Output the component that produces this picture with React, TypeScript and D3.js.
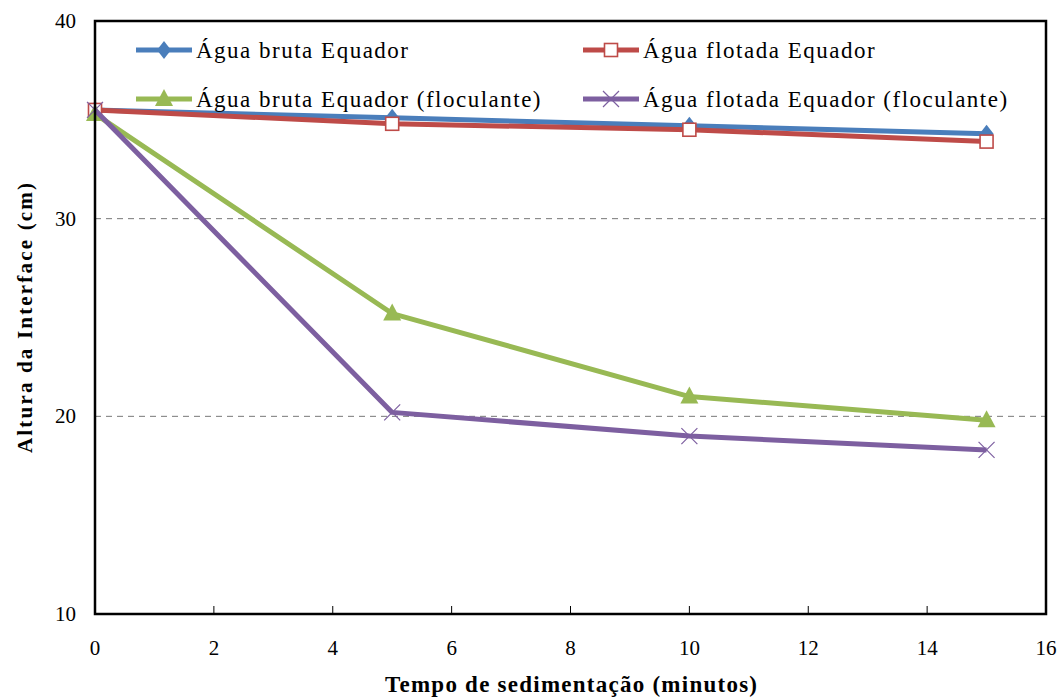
import React from 'react';
import * as d3 from 'd3';

const tempos = [0, 5, 10, 15];
const brutaEquador = [35.5, 35.1, 34.7, 34.3];
const flotadaEquador = [35.5, 34.8, 34.5, 33.9];
const brutaFloculante = [35.3, 25.2, 21.0, 19.8];
const flotadaFloculante = [35.5, 20.2, 19.0, 18.3];

const xTicks = [0, 2, 4, 6, 8, 10, 12, 14, 16];
const yTicks = [10, 20, 30, 40];
const gridValues = [20, 30];

const series = [
  { name: 'Água bruta Equador', values: brutaEquador, color: '#4a7ebb', marker: 'diamond' },
  { name: 'Água flotada Equador', values: flotadaEquador, color: '#be4b48', marker: 'square' },
  { name: 'Água bruta Equador (floculante)', values: brutaFloculante, color: '#98b954', marker: 'triangle' },
  { name: 'Água flotada Equador (floculante)', values: flotadaFloculante, color: '#7d5fa0', marker: 'cross' },
];

const W = 1060;
const H = 698;
const margin = { left: 95, right: 14, top: 21, bottom: 84 };

// no serif face in the sandbox, so this falls back to Liberation Sans
const font = "'Times New Roman', 'Liberation Serif', serif";

function Marker({ type, x, y, color }: { type: string; x: number; y: number; color: string }) {
  if (type === 'diamond') {
    return <path d={`M${x},${y - 9}L${x + 7},${y}L${x},${y + 9}L${x - 7},${y}Z`} fill={color} />;
  }
  if (type === 'square') {
    const s = 6.5;
    return <rect x={x - s} y={y - s} width={s * 2} height={s * 2} fill="#fff" stroke={color} strokeWidth={1.6} />;
  }
  if (type === 'triangle') {
    return <path d={`M${x},${y - 10}L${x + 9},${y + 7}L${x - 9},${y + 7}Z`} fill={color} />;
  }
  const s = 8;
  return (
    <path
      d={`M${x - s},${y - s}L${x + s},${y + s}M${x - s},${y + s}L${x + s},${y - s}`}
      stroke={color}
      strokeWidth={1.2}
      fill="none"
    />
  );
}

export default function App() {
  const x = d3.scaleLinear().domain([0, 16]).range([margin.left, W - margin.right]);
  const y = d3.scaleLinear().domain([10, 40]).range([H - margin.bottom, margin.top]);

  const line = d3
    .line<number>()
    .x((_, i) => x(tempos[i]))
    .y((d) => y(d));

  const legendPos = [
    { lx: 136, ly: 50 },
    { lx: 583, ly: 50 },
    { lx: 136, ly: 99 },
    { lx: 583, ly: 99 },
  ];

  const txt = { fontFamily: font };

  return (
    <svg width={W} height={H} style={{ position: 'absolute', left: 0, top: 0 }}>
      <rect width={W} height={H} fill="#fff" />

      {gridValues.map((v) => (
        <line
          key={v}
          x1={x(0)}
          x2={x(16)}
          y1={y(v)}
          y2={y(v)}
          stroke="#777"
          strokeWidth={1}
          strokeDasharray="6,5"
        />
      ))}

      {xTicks.slice(1, -1).map((t) => (
        <line key={t} x1={x(t)} x2={x(t)} y1={y(10)} y2={y(10) - 8} stroke="#000" strokeWidth={1} />
      ))}

      {series.map((s) => (
        <g key={s.name}>
          <path d={line(s.values) || ''} fill="none" stroke={s.color} strokeWidth={5} strokeLinejoin="round" />
          {s.values.map((v, i) => (
            <Marker key={i} type={s.marker} x={x(tempos[i])} y={y(v)} color={s.color} />
          ))}
        </g>
      ))}

      <rect
        x={x(0)}
        y={y(40)}
        width={x(16) - x(0)}
        height={y(10) - y(40)}
        fill="none"
        stroke="#000"
        strokeWidth={2.5}
      />

      {series.map((s, i) => {
        const p = legendPos[i];
        return (
          <g key={s.name}>
            <line x1={p.lx} x2={p.lx + 56} y1={p.ly} y2={p.ly} stroke={s.color} strokeWidth={5} />
            <Marker type={s.marker} x={p.lx + 28} y={p.ly} color={s.color} />
            <text
              x={p.lx + 60}
              y={p.ly + 8}
              fontSize={23}
              fill="#000"
              style={{ ...txt, letterSpacing: '1.5px' }}
            >
              {s.name}
            </text>
          </g>
        );
      })}

      {yTicks.map((t) => (
        <text key={t} x={76} y={y(t) + 7} textAnchor="end" fontSize={21} fill="#000" style={txt}>
          {t}
        </text>
      ))}

      {xTicks.map((t) => (
        <text key={t} x={x(t)} y={655} textAnchor="middle" fontSize={21} fill="#000" style={txt}>
          {t}
        </text>
      ))}

      <text
        x={385}
        y={692}
        fontSize={23}
        fontWeight="bold"
        fill="#000"
        textLength={372}
        lengthAdjust="spacing"
        style={txt}
      >
        Tempo de sedimentação (minutos)
      </text>

      <text
        transform="translate(32, 453) rotate(-90)"
        fontSize={21}
        fontWeight="bold"
        fill="#000"
        textLength={270}
        lengthAdjust="spacing"
        style={txt}
      >
        Altura da Interface (cm)
      </text>
    </svg>
  );
}
